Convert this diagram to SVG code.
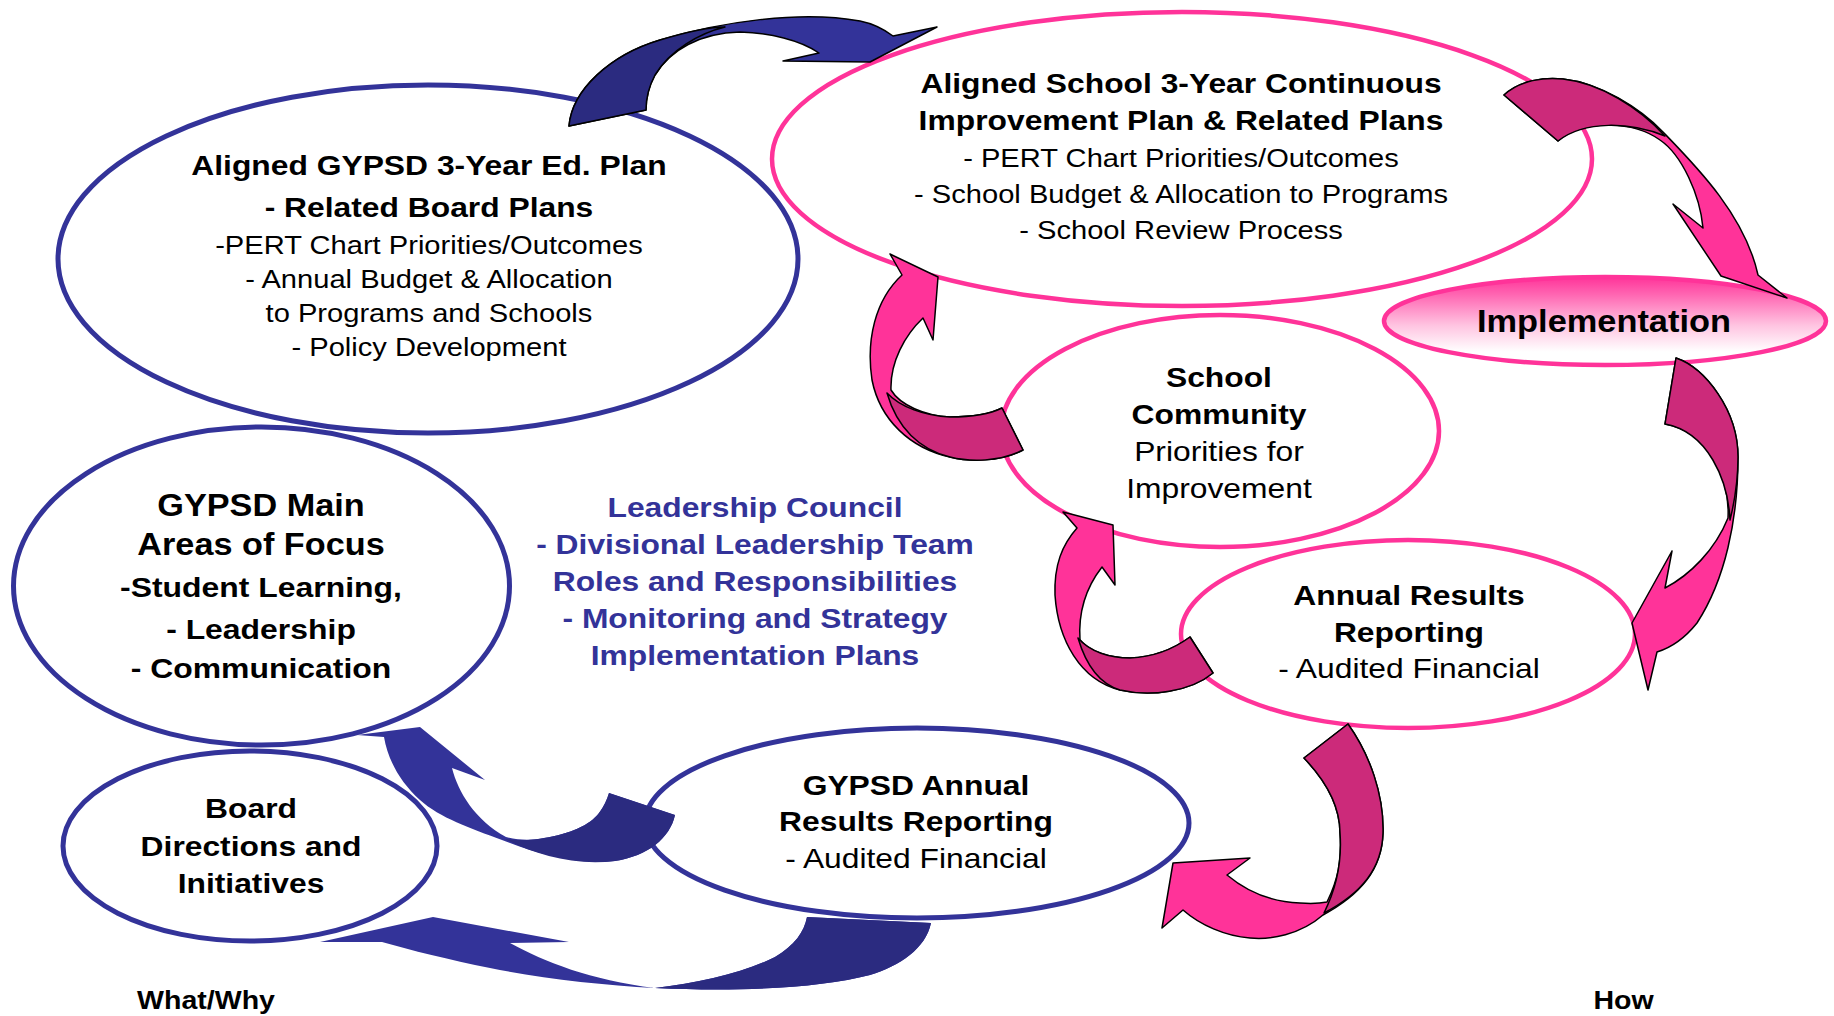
<svg xmlns="http://www.w3.org/2000/svg" width="1834" height="1016" viewBox="0 0 1834 1016">
<defs>
<linearGradient id="impGrad" x1="0" y1="0" x2="0" y2="1">
<stop offset="0" stop-color="#FF3399"/>
<stop offset="0.2" stop-color="#FF66B2"/>
<stop offset="0.55" stop-color="#FFC4E1"/>
<stop offset="0.85" stop-color="#FFFFFF"/>
</linearGradient>
<style>
.nv{fill:#fff;stroke:#333399;stroke-width:5}
.pk{fill:#fff;stroke:#FF3399;stroke-width:4.5}
.t{font-family:"Liberation Sans",Arial,Helvetica,sans-serif;text-anchor:middle;fill:#000}
.b{font-weight:bold}
.bl{fill:#333399}
.pl{fill:#FF3399;stroke:#000;stroke-width:1.5;stroke-linejoin:round}
.pd{fill:#CC2A7A;stroke:#000;stroke-width:1.5;stroke-linejoin:round}
.nls{fill:#333399;stroke:#000;stroke-width:1.5;stroke-linejoin:round}
.nds{fill:#2B2B80;stroke:#000;stroke-width:1.5;stroke-linejoin:round}
.nl{fill:#333399}
.nd{fill:#2B2B80}
</style>
</defs>
<rect width="1834" height="1016" fill="#fff"/>

<g id="node-gypsd-ed-plan">
<ellipse class="nv" cx="428" cy="259" rx="370" ry="174"/>
<g transform="matrix(1.12 0 0 1 -51.5 0)">
<text class="t b" x="429" y="175" font-size="28.4">Aligned GYPSD 3-Year Ed. Plan</text>
<text class="t b" x="429" y="217" font-size="28.4">- Related Board Plans</text>
<text class="t" x="429" y="254" font-size="26">-PERT Chart Priorities/Outcomes</text>
<text class="t" x="429" y="288" font-size="26">- Annual Budget &amp; Allocation</text>
<text class="t" x="429" y="322" font-size="26">to Programs and Schools</text>
<text class="t" x="429" y="356" font-size="26">- Policy Development</text>
</g>
</g>

<g id="node-school-plan">
<ellipse class="pk" cx="1182" cy="159" rx="410" ry="147"/>
<g transform="matrix(1.12 0 0 1 -141.7 0)">
<text class="t b" x="1181" y="93" font-size="28.4">Aligned School 3-Year Continuous</text>
<text class="t b" x="1181" y="130" font-size="28.4">Improvement Plan &amp; Related Plans</text>
<text class="t" x="1181" y="167" font-size="26">- PERT Chart Priorities/Outcomes</text>
<text class="t" x="1181" y="203" font-size="26">- School Budget &amp; Allocation to Programs</text>
<text class="t" x="1181" y="239" font-size="26">- School Review Process</text>
</g>
</g>

<g id="node-implementation">
<ellipse cx="1605" cy="321" rx="221" ry="44" fill="url(#impGrad)" stroke="#FF3399" stroke-width="4.5"/>
<g transform="matrix(1.12 0 0 1 -192.5 0)">
<text class="t b" x="1604" y="332" font-size="30.7">Implementation</text>
</g>
</g>

<g id="node-school-community">
<ellipse class="pk" cx="1220" cy="431" rx="219" ry="116"/>
<g transform="matrix(1.12 0 0 1 -146.3 0)">
<text class="t b" x="1219" y="387" font-size="28.4">School</text>
<text class="t b" x="1219" y="424" font-size="28.4">Community</text>
<text class="t" x="1219" y="461" font-size="28.4">Priorities for</text>
<text class="t" x="1219" y="498" font-size="28.4">Improvement</text>
</g>
</g>

<g id="node-annual-results">
<ellipse class="pk" cx="1408" cy="634" rx="227" ry="94"/>
<g transform="matrix(1.12 0 0 1 -169.1 0)">
<text class="t b" x="1409" y="605" font-size="28.4">Annual Results</text>
<text class="t b" x="1409" y="642" font-size="28.4">Reporting</text>
<text class="t" x="1409" y="678" font-size="28.4">- Audited Financial</text>
</g>
</g>

<g id="node-gypsd-annual">
<ellipse class="nv" cx="917" cy="823" rx="272" ry="95"/>
<g transform="matrix(1.12 0 0 1 -109.9 0)">
<text class="t b" x="916" y="795" font-size="28.4">GYPSD Annual</text>
<text class="t b" x="916" y="831" font-size="28.4">Results Reporting</text>
<text class="t" x="916" y="868" font-size="28.4">- Audited Financial</text>
</g>
</g>

<g id="node-gypsd-main">
<ellipse class="nv" cx="261.5" cy="586" rx="248" ry="159"/>
<g transform="matrix(1.12 0 0 1 -31.3 0)">
<text class="t b" x="261" y="516" font-size="30.6">GYPSD Main</text>
<text class="t b" x="261" y="555" font-size="30.6">Areas of Focus</text>
<text class="t b" x="261" y="597" font-size="28.5">-Student Learning,</text>
<text class="t b" x="261" y="639" font-size="28.5">- Leadership</text>
<text class="t b" x="261" y="678" font-size="28.5">- Communication</text>
</g>
</g>

<g id="node-board">
<ellipse class="nv" cx="250" cy="846" rx="187" ry="95"/>
<g transform="matrix(1.12 0 0 1 -30.1 0)">
<text class="t b" x="251" y="818" font-size="28.4">Board</text>
<text class="t b" x="251" y="856" font-size="28.4">Directions and</text>
<text class="t b" x="251" y="893" font-size="28.4">Initiatives</text>
</g>
</g>

<g id="node-leadership">
<g transform="matrix(1.12 0 0 1 -90.6 0)">
<text class="t b bl" x="755" y="517" font-size="28.4">Leadership Council</text>
<text class="t b bl" x="755" y="554" font-size="28.4">- Divisional Leadership Team</text>
<text class="t b bl" x="755" y="591" font-size="28.4">Roles and Responsibilities</text>
<text class="t b bl" x="755" y="628" font-size="28.4">- Monitoring and Strategy</text>
<text class="t b bl" x="755" y="665" font-size="28.4">Implementation Plans</text>
</g>
</g>

<g id="label-what-why">
<g transform="matrix(1.12 0 0 1 -24.7 0)">
<text class="t b" x="206" y="1009" font-size="25.5">What/Why</text>
</g>
</g>
<g id="label-how">
<g transform="matrix(1.12 0 0 1 -194.8 0)">
<text class="t b" x="1623.5" y="1009" font-size="25.5">How</text>
</g>
</g>

<g id="connectors">
<!-- top navy: Ed plan -> School plan -->
<path class="nls" d="M569,126 C572,90 610,55 660,40 C720,22 800,10 860,21 C875,24 885,30 893,36 L937,27 L870,62 L783,61 L819,53 C800,40 770,33 740,32 C700,33 670,50 655,75 C648,88 646,100 646,110 Z"/>
<path class="nds" d="M569,126 C572,90 610,55 660,40 C690,31 710,27 725,27 C700,33 670,50 655,75 C648,88 646,100 646,110 Z"/>

<!-- pink: School plan -> Implementation -->
<path class="pl" d="M1504,95 C1520,80 1545,77 1563,79 C1600,83 1640,108 1663,132 C1695,165 1745,215 1758,275 L1787,298 L1721,276 L1673,204 L1703,228 C1700,195 1682,155 1660,140 C1635,122 1585,118 1558,141 Z"/>
<path class="pd" d="M1504,95 C1520,80 1545,77 1563,79 C1600,83 1640,108 1665,136 C1630,122 1585,120 1558,141 Z"/>

<!-- pink: Implementation -> Annual Results -->
<path class="pl" d="M1676,358 C1705,368 1738,410 1738,457 C1738,520 1725,580 1697,623 C1685,638 1670,648 1657,652 L1648,690 L1632,623 L1672,551 L1665,588 C1690,575 1715,550 1728,518 C1730,480 1710,432 1665,424 Z"/>
<path class="pd" d="M1676,358 C1705,368 1738,410 1738,457 C1738,480 1735,500 1730,520 C1728,480 1708,432 1665,424 Z"/>

<!-- pink: Annual Results -> School Community -->
<path class="pl" d="M1213,673 C1190,692 1150,697 1120,690 C1080,680 1058,640 1055,595 C1054,565 1062,545 1077,528 L1063,512 L1113,525 L1115,585 L1102,567 C1088,585 1078,610 1080,640 C1090,652 1110,658 1130,658 C1155,657 1175,648 1190,637 Z"/>
<path class="pd" d="M1190,637 L1213,673 C1190,692 1150,697 1120,690 C1100,684 1086,665 1078,638 C1090,652 1110,658 1130,658 C1155,657 1175,648 1190,637 Z"/>

<!-- pink: School Community -> School plan -->
<path class="pl" d="M1023,450 C1000,462 970,462 950,457 C910,448 880,420 872,380 C866,340 875,300 902,275 L890,254 L938,277 L933,340 L923,318 C905,335 890,362 891,390 C900,405 925,416 950,417 C970,417 990,414 1002,408 Z"/>
<path class="pd" d="M1002,408 L1023,450 C1000,462 970,462 950,457 C920,450 897,428 887,393 C900,407 925,416 950,417 C970,417 990,414 1002,408 Z"/>

<!-- pink: Annual Results -> GYPSD Annual -->
<path class="pl" d="M1348,724 C1370,755 1384,795 1383,833 C1382,870 1360,895 1323,915 C1300,935 1270,940 1250,938 C1225,936 1200,925 1183,910 L1162,928 L1173,863 L1250,858 L1227,875 C1245,890 1270,902 1300,903 C1315,904 1322,903 1327,902 C1338,880 1342,860 1340,833 C1340,805 1325,780 1304,758 Z"/>
<path class="pd" d="M1304,758 L1348,724 C1370,755 1384,795 1383,833 C1382,868 1362,893 1324,913 C1338,885 1342,860 1340,833 C1340,805 1325,780 1304,758 Z"/>

<!-- navy: GYPSD Annual -> GYPSD Main -->
<path class="nl" d="M609,793 L675,815 C670,838 648,856 615,861 C580,865 540,855 502,840 C470,828 440,818 420,800 C400,782 388,760 384,737 L357,735 L420,727 L485,780 L452,768 C458,792 475,820 506,837 C520,841 535,840 544,838 C570,834 590,825 599,813 C604,806 607,800 609,793 Z"/>
<path class="nd" d="M609,793 L675,815 C670,838 648,856 615,861 C575,866 535,855 505,839 C520,841 535,840 544,838 C570,834 590,825 599,813 C604,806 607,800 609,793 Z"/>

<!-- navy: GYPSD Annual -> Board -->
<path class="nl" d="M931,923 C926,948 900,966 870,975 C820,988 740,992 655,988 C600,985 540,978 490,968 C450,960 410,950 382,942 L320,942 L433,917 L569,942 L510,943 C545,962 590,980 655,988 C700,983 745,972 775,957 C795,945 804,932 807,917 Z"/>
<path class="nd" d="M807,917 L931,923 C926,948 900,966 870,975 C820,988 740,992 655,988 C700,983 745,972 775,957 C795,945 804,932 807,917 Z"/>
</g>
</svg>
